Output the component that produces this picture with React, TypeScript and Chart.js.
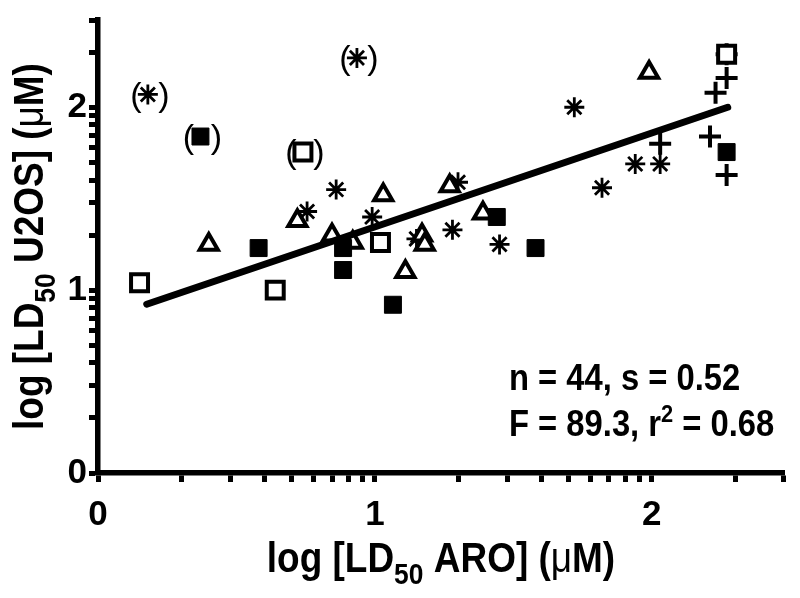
import React, { useEffect, useRef } from "react";
import { Chart, registerables } from "chart.js";

Chart.register(...registerables);

// ---- data (log10 values) ----
const openSquareX = [0.15, 0.64, 1.02, 2.27];
const openSquareY = [1.04, 1.0, 1.26, 2.29];

const filledSquareX = [0.58, 0.885, 0.885, 1.065, 1.44, 1.58, 2.27];
const filledSquareY = [1.23, 1.23, 1.11, 0.92, 1.4, 1.23, 1.755];

const triangleX = [0.4, 0.72, 0.845, 0.92, 1.03, 1.11, 1.17, 1.18, 1.27, 1.39, 1.99];
const triangleY = [1.25, 1.38, 1.3, 1.26, 1.52, 1.1, 1.3, 1.25, 1.57, 1.42, 2.19];

const starX = [0.755, 0.86, 0.99, 1.15, 1.28, 1.3, 1.45, 1.72, 1.82, 1.94, 2.03];
const starY = [1.43, 1.55, 1.4, 1.28, 1.33, 1.59, 1.25, 2.0, 1.56, 1.69, 1.69];

const plusX = [2.27, 2.27, 2.23, 2.21, 2.03, 2.27];
const plusY = [2.29, 2.16, 2.08, 1.84, 1.8, 1.63];

// excluded points (shown in parentheses)
const starOutX = [0.18, 0.935];
const starOutY = [2.07, 2.27];
const filledOutX = [0.37];
const filledOutY = [1.84];
const openOutX = [0.74];
const openOutY = [1.755];

// regression line end points
const fitX = [0.176, 2.274];
const fitY = [0.923, 2.0];

// axis ticks
const decades = [0, 1, 2];
const tickFactors = [1, 2, 3, 4, 5, 6, 7, 8, 9];
const axisMin = 0;
const axisMax = 2.4772;
const majorLabels = ["0", "1", "2"];

const statLine1 = "n = 44, s = 0.52";
const statLine2a = "F = 89.3, r";
const statLine2sup = "2";
const statLine2b = " = 0.68";

const FAM = '"Liberation Sans", Arial, Helvetica, sans-serif';

const pts = (xs: number[], ys: number[]) => xs.map((x, i) => ({ x, y: ys[i] }));

const tickValues: number[] = [];
decades.forEach((d) =>
  tickFactors.forEach((f) => {
    const v = d + Math.log10(f);
    if (v <= axisMax + 1e-6) tickValues.push(v);
  })
);

type Piece = { t: string; f: string; dy?: number };

function drawRich(ctx: CanvasRenderingContext2D, pieces: Piece[], x: number, y: number, align: string, sx: number) {
  const widths = pieces.map((p) => {
    ctx.font = p.f;
    return ctx.measureText(p.t).width;
  });
  const total = widths.reduce((a, b) => a + b, 0) * sx;
  const start = align === "center" ? x - total / 2 : align === "right" ? x - total : x;
  ctx.save();
  ctx.translate(start, y);
  ctx.scale(sx, 1);
  ctx.fillStyle = "#000";
  ctx.textBaseline = "alphabetic";
  ctx.textAlign = "left";
  let cx = 0;
  pieces.forEach((p, i) => {
    ctx.font = p.f;
    ctx.fillText(p.t, cx, p.dy || 0);
    cx += widths[i];
  });
  ctx.restore();
}

const textPlugin = {
  id: "textPlugin",
  afterDatasetsDraw(chart: any) {
    const ctx: CanvasRenderingContext2D = chart.ctx;
    // parentheses around excluded points
    chart.data.datasets.forEach((ds: any, i: number) => {
      if (!ds.outlier) return;
      const meta = chart.getDatasetMeta(i);
      meta.data.forEach((el: any) => {
        ctx.save();
        ctx.fillStyle = "#000";
        ctx.font = `normal 34px ${FAM}`;
        ctx.textBaseline = "middle";
        ctx.textAlign = "center";
        ctx.fillText("(", el.x - 12, el.y + 2);
        ctx.fillText(")", el.x + 16, el.y + 2);
        ctx.restore();
      });
    });
  },
  afterDraw(chart: any) {
    const ctx: CanvasRenderingContext2D = chart.ctx;
    const area = chart.chartArea;
    const B42 = `bold 42px ${FAM}`;
    const N42 = `normal 42px ${FAM}`;
    const B30 = `bold 30px ${FAM}`;
    // x title
    drawRich(
      ctx,
      [
        { t: "log [LD", f: B42 },
        { t: "50", f: B30, dy: 12 },
        { t: " ARO] (", f: B42 },
        { t: "\u03bc", f: N42 },
        { t: "M)", f: B42 },
      ],
      (area.left + area.right) / 2,
      572,
      "center",
      0.88
    );
    // y title
    ctx.save();
    ctx.translate(43, (area.top + area.bottom) / 2);
    ctx.rotate(-Math.PI / 2);
    drawRich(
      ctx,
      [
        { t: "log [LD", f: B42 },
        { t: "50", f: B30, dy: 12 },
        { t: " U2OS] (", f: B42 },
        { t: "\u03bc", f: N42 },
        { t: "M)", f: B42 },
      ],
      0,
      0,
      "center",
      0.88
    );
    ctx.restore();
    // statistics
    const B36 = `bold 36px ${FAM}`;
    drawRich(ctx, [{ t: statLine1, f: B36 }], 509, 390, "left", 0.91);
    drawRich(
      ctx,
      [
        { t: statLine2a, f: B36 },
        { t: statLine2sup, f: `bold 24px ${FAM}`, dy: -14 },
        { t: statLine2b, f: B36 },
      ],
      509,
      436,
      "left",
      0.91
    );
  },
};

function axisOpts(isX: boolean) {
  return {
    type: "linear" as const,
    min: axisMin,
    max: axisMax,
    afterBuildTicks: (scale: any) => {
      scale.ticks = tickValues.map((v) => ({ value: v }));
    },
    afterFit: (scale: any) => {
      if (isX) {
        scale.height = 125;
        scale.paddingLeft = 0;
        scale.paddingRight = 0;
      } else {
        scale.width = 98;
        scale.paddingTop = 0;
        scale.paddingBottom = 0;
      }
    },
    ticks: {
      autoSkip: false,
      maxRotation: 0,
      minRotation: 0,
      color: "#000",
      padding: isX ? 12 : 2,
      font: { family: FAM, weight: "bold" as const, size: 35 },
      callback: (v: number) => {
        const idx = decades.findIndex((d) => Math.abs(d - v) < 1e-6);
        return idx >= 0 ? majorLabels[idx] : "";
      },
    },
    grid: {
      drawOnChartArea: false,
      drawTicks: true,
      tickLength: 9,
      tickWidth: 5,
      tickColor: "#000",
      color: "#000",
    },
    border: { display: true, width: 5.5, color: "#000" },
  };
}

export default function App() {
  const ref = useRef<HTMLCanvasElement | null>(null);
  useEffect(() => {
    if (!ref.current) return;
    const common = { pointBorderColor: "#000", showLine: false, clip: false as any };
    const chart = new Chart(ref.current, {
      type: "scatter",
      data: {
        datasets: [
          {
            data: pts(fitX, fitY),
            showLine: true,
            borderColor: "#000",
            borderWidth: 7,
            borderCapStyle: "round",
            pointRadius: 0,
            clip: false as any,
          } as any,
          { ...common, data: pts(openSquareX, openSquareY), pointStyle: "rect", pointRadius: 12, pointBorderWidth: 4, pointBackgroundColor: "#fff" },
          { ...common, data: pts(filledSquareX, filledSquareY), pointStyle: "rect", pointRadius: 12, pointBorderWidth: 1, pointBackgroundColor: "#000" },
          { ...common, data: pts(triangleX, triangleY), pointStyle: "triangle", pointRadius: 10.5, pointBorderWidth: 4, pointBackgroundColor: "#fff" },
          { ...common, data: pts(starX, starY), pointStyle: "star", pointRadius: 10, pointBorderWidth: 2.8, pointBackgroundColor: "#000" },
          { ...common, data: pts(plusX, plusY), pointStyle: "cross", pointRadius: 11, pointBorderWidth: 4, pointBackgroundColor: "#000" },
          { ...common, outlier: true, data: pts(starOutX, starOutY), pointStyle: "star", pointRadius: 10, pointBorderWidth: 2.8, pointBackgroundColor: "#000" } as any,
          { ...common, outlier: true, data: pts(filledOutX, filledOutY), pointStyle: "rect", pointRadius: 12, pointBorderWidth: 1, pointBackgroundColor: "#000" } as any,
          { ...common, outlier: true, data: pts(openOutX, openOutY), pointStyle: "rect", pointRadius: 12, pointBorderWidth: 4, pointBackgroundColor: "#fff" } as any,
        ],
      },
      options: {
        responsive: true,
        maintainAspectRatio: false,
        animation: false,
        events: [],
        layout: { padding: { top: 20, right: 16, left: 0, bottom: 0 } },
        plugins: { legend: { display: false }, tooltip: { enabled: false } },
        scales: { x: axisOpts(true) as any, y: axisOpts(false) as any },
      },
      plugins: [textPlugin],
    });
    return () => chart.destroy();
  }, []);
  return (
    <div style={{ position: "fixed", left: 0, top: 0, width: 800, height: 598, background: "#fff" }}>
      <canvas ref={ref} />
    </div>
  );
}
